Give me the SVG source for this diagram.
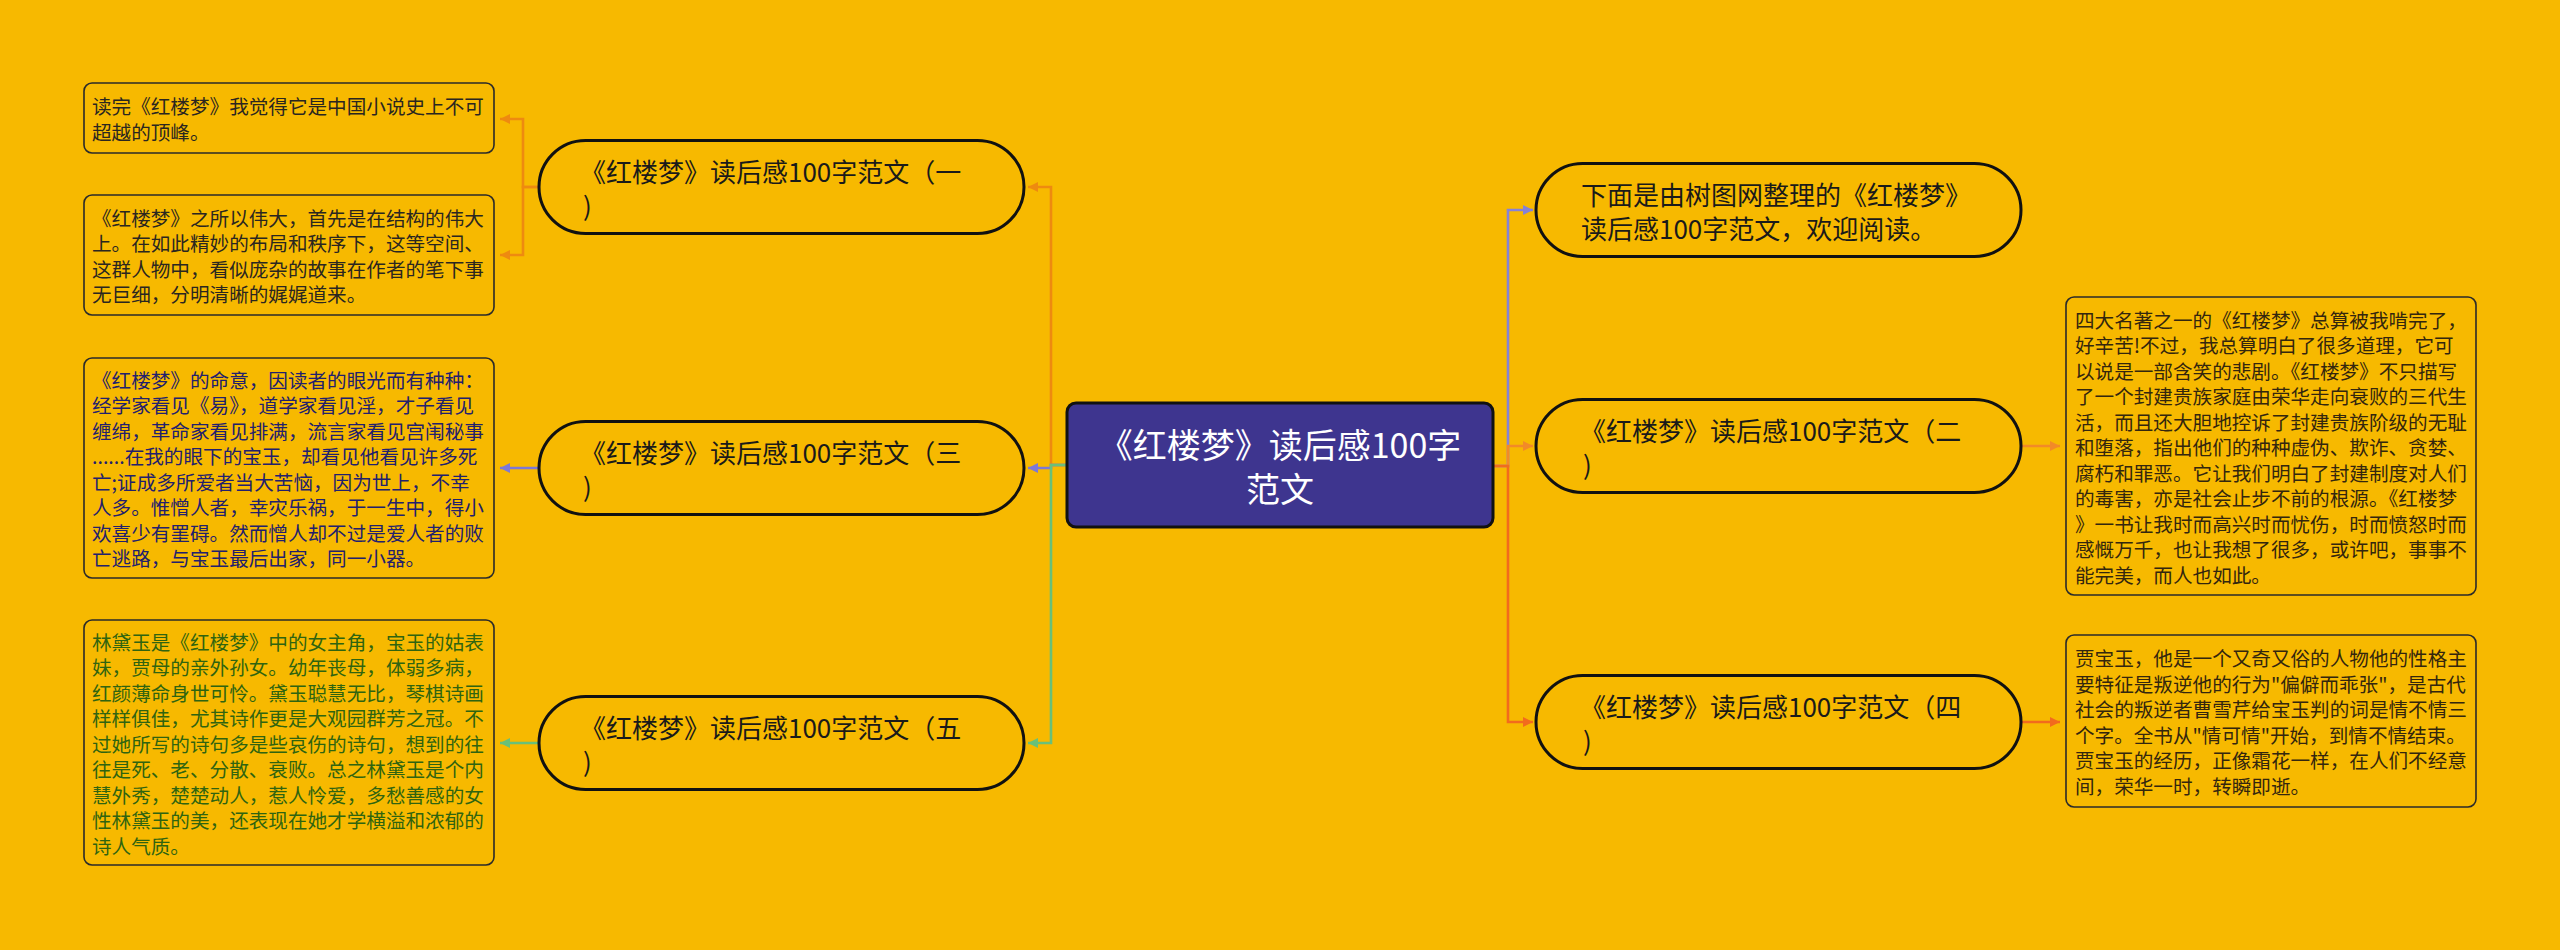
<svg xmlns="http://www.w3.org/2000/svg" width="2560" height="950" viewBox="0 0 2560 950">
<style>
text{font-family:"Noto Sans CJK SC","Noto Sans",sans-serif;dominant-baseline:central}
.pill{fill:none;stroke:#111;stroke-width:3}
.pt{font-size:26px;fill:#1a1a1a}
.box{fill:none;stroke:#2a2a2a;stroke-width:1.6}
.bt{font-size:19.6px}
.c{fill:none;stroke-width:2.6}
.or{stroke:#ee8a10}.pu{stroke:#7c78d8}.gr{stroke:#69c07a}.lp{stroke:#8682d8}.lo{stroke:#f28a28}.ro{stroke:#f26b1d}
</style>
<defs>
<marker id="a-or" viewBox="0 0 10 10" refX="10" refY="5" markerWidth="10" markerHeight="10" markerUnits="userSpaceOnUse" orient="auto"><path d="M0,0L10,5L0,10z" fill="#ee8a10"/></marker>
<marker id="a-pu" viewBox="0 0 10 10" refX="10" refY="5" markerWidth="10" markerHeight="10" markerUnits="userSpaceOnUse" orient="auto"><path d="M0,0L10,5L0,10z" fill="#7c78d8"/></marker>
<marker id="a-gr" viewBox="0 0 10 10" refX="10" refY="5" markerWidth="10" markerHeight="10" markerUnits="userSpaceOnUse" orient="auto"><path d="M0,0L10,5L0,10z" fill="#69c07a"/></marker>
<marker id="a-lp" viewBox="0 0 10 10" refX="10" refY="5" markerWidth="10" markerHeight="10" markerUnits="userSpaceOnUse" orient="auto"><path d="M0,0L10,5L0,10z" fill="#8682d8"/></marker>
<marker id="a-lo" viewBox="0 0 10 10" refX="10" refY="5" markerWidth="10" markerHeight="10" markerUnits="userSpaceOnUse" orient="auto"><path d="M0,0L10,5L0,10z" fill="#f28a28"/></marker>
<marker id="a-ro" viewBox="0 0 10 10" refX="10" refY="5" markerWidth="10" markerHeight="10" markerUnits="userSpaceOnUse" orient="auto"><path d="M0,0L10,5L0,10z" fill="#f26b1d"/></marker>
</defs>
<rect width="2560" height="950" fill="#f7b900"/>
<g id="connectors">
<path class="c or" d="M1067,465H1051V187H1028" marker-end="url(#a-or)"/>
<path class="c pu" d="M1067,465H1051V468H1028" marker-end="url(#a-pu)"/>
<path class="c gr" d="M1067,465H1051V743H1028" marker-end="url(#a-gr)"/>
<path class="c or" d="M539,187H523V119H500" marker-end="url(#a-or)"/>
<path class="c or" d="M539,187H523V255H500" marker-end="url(#a-or)"/>
<path class="c pu" d="M539,468H500" marker-end="url(#a-pu)"/>
<path class="c gr" d="M539,743H500" marker-end="url(#a-gr)"/>
<path class="c lp" d="M1493,466H1508V210H1533" marker-end="url(#a-lp)"/>
<path class="c lo" d="M1493,466H1508V446H1533" marker-end="url(#a-lo)"/>
<path class="c ro" d="M1493,466H1508V722H1533" marker-end="url(#a-ro)"/>
<path class="c lo" d="M2021,446H2060" marker-end="url(#a-lo)"/>
<path class="c ro" d="M2021,722H2060" marker-end="url(#a-ro)"/>
</g>
<g id="center">
<rect x="1067" y="403" width="426" height="124" rx="9" fill="#3e358f" stroke="#111" stroke-width="3"/>
<text font-size="34" fill="#fff" text-anchor="middle"><tspan x="1280" y="443">《红楼梦》读后感100字</tspan><tspan x="1280" y="487">范文</tspan></text>
</g>
<g id="intro">
<rect class="pill" x="1536" y="163.5" width="485" height="93" rx="46.5"/>
<text class="pt"><tspan x="1581" y="193">下面是由树图网整理的《红楼梦》</tspan><tspan x="1581" y="227">读后感100字范文，欢迎阅读。</tspan></text>
</g>
<g id="p1">
<rect class="pill" x="539" y="140.5" width="485" height="93" rx="46.5"/>
<text class="pt"><tspan x="580" y="170">《红楼梦》读后感100字范文（一</tspan><tspan x="583" y="204">)</tspan></text>
</g>
<g id="p3">
<rect class="pill" x="539" y="421.5" width="485" height="93" rx="46.5"/>
<text class="pt"><tspan x="580" y="451">《红楼梦》读后感100字范文（三</tspan><tspan x="583" y="485">)</tspan></text>
</g>
<g id="p5">
<rect class="pill" x="539" y="696.5" width="485" height="93" rx="46.5"/>
<text class="pt"><tspan x="580" y="726">《红楼梦》读后感100字范文（五</tspan><tspan x="583" y="760">)</tspan></text>
</g>
<g id="p2">
<rect class="pill" x="1536" y="399.5" width="485" height="93" rx="46.5"/>
<text class="pt"><tspan x="1580" y="429">《红楼梦》读后感100字范文（二</tspan><tspan x="1583" y="463">)</tspan></text>
</g>
<g id="p4">
<rect class="pill" x="1536" y="675.5" width="485" height="93" rx="46.5"/>
<text class="pt"><tspan x="1580" y="705">《红楼梦》读后感100字范文（四</tspan><tspan x="1583" y="739">)</tspan></text>
</g>
<g id="d1">
<rect class="box" x="84" y="83" width="410" height="70" rx="8"/>
<text class="bt" fill="#2a2620"><tspan x="92" y="105.25">读完《红楼梦》我觉得它是中国小说史上不可</tspan><tspan x="92" y="130.75">超越的顶峰。</tspan></text>
</g>
<g id="d2">
<rect class="box" x="84" y="195" width="410" height="120" rx="8"/>
<text class="bt" fill="#2a2620"><tspan x="92" y="216.75">《红楼梦》之所以伟大，首先是在结构的伟大</tspan><tspan x="92" y="242.25">上。在如此精妙的布局和秩序下，这等空间、</tspan><tspan x="92" y="267.75">这群人物中，看似庞杂的故事在作者的笔下事</tspan><tspan x="92" y="293.25">无巨细，分明清晰的娓娓道来。</tspan></text>
</g>
<g id="d3">
<rect class="box" x="84" y="358" width="410" height="220" rx="8"/>
<text class="bt" fill="#22206e"><tspan x="92" y="378.75">《红楼梦》的命意，因读者的眼光而有种种：</tspan><tspan x="92" y="404.25">经学家看见《易》，道学家看见淫，才子看见</tspan><tspan x="92" y="429.75">缠绵，革命家看见排满，流言家看见宫闱秘事</tspan><tspan x="92" y="455.25">......在我的眼下的宝玉，却看见他看见许多死</tspan><tspan x="92" y="480.75">亡;证成多所爱者当大苦恼，因为世上，不幸</tspan><tspan x="92" y="506.25">人多。惟憎人者，幸灾乐祸，于一生中，得小</tspan><tspan x="92" y="531.75">欢喜少有罣碍。然而憎人却不过是爱人者的败</tspan><tspan x="92" y="557.25">亡逃路，与宝玉最后出家，同一小器。</tspan></text>
</g>
<g id="d5">
<rect class="box" x="84" y="620" width="410" height="245" rx="8"/>
<text class="bt" fill="#2f6410"><tspan x="92" y="640.5">林黛玉是《红楼梦》中的女主角，宝玉的姑表</tspan><tspan x="92" y="666">妹，贾母的亲外孙女。幼年丧母，体弱多病，</tspan><tspan x="92" y="691.5">红颜薄命身世可怜。黛玉聪慧无比，琴棋诗画</tspan><tspan x="92" y="717">样样俱佳，尤其诗作更是大观园群芳之冠。不</tspan><tspan x="92" y="742.5">过她所写的诗句多是些哀伤的诗句，想到的往</tspan><tspan x="92" y="768">往是死、老、分散、衰败。总之林黛玉是个内</tspan><tspan x="92" y="793.5">慧外秀，楚楚动人，惹人怜爱，多愁善感的女</tspan><tspan x="92" y="819">性林黛玉的美，还表现在她才学横溢和浓郁的</tspan><tspan x="92" y="844.5">诗人气质。</tspan></text>
</g>
<g id="d2r">
<rect class="box" x="2066" y="297" width="410" height="298" rx="8"/>
<text class="bt" fill="#33260e"><tspan x="2075" y="318.5">四大名著之一的《红楼梦》总算被我啃完了，</tspan><tspan x="2075" y="344">好辛苦!不过，我总算明白了很多道理，它可</tspan><tspan x="2075" y="369.5">以说是一部含笑的悲剧。《红楼梦》不只描写</tspan><tspan x="2075" y="395">了一个封建贵族家庭由荣华走向衰败的三代生</tspan><tspan x="2075" y="420.5">活，而且还大胆地控诉了封建贵族阶级的无耻</tspan><tspan x="2075" y="446">和堕落，指出他们的种种虚伪、欺诈、贪婪、</tspan><tspan x="2075" y="471.5">腐朽和罪恶。它让我们明白了封建制度对人们</tspan><tspan x="2075" y="497">的毒害，亦是社会止步不前的根源。《红楼梦</tspan><tspan x="2075" y="522.5">》一书让我时而高兴时而忧伤，时而愤怒时而</tspan><tspan x="2075" y="548">感慨万千，也让我想了很多，或许吧，事事不</tspan><tspan x="2075" y="573.5">能完美，而人也如此。</tspan></text>
</g>
<g id="d4r">
<rect class="box" x="2066" y="635" width="410" height="172" rx="8"/>
<text class="bt" fill="#33260e"><tspan x="2075" y="657.25">贾宝玉，他是一个又奇又俗的人物他的性格主</tspan><tspan x="2075" y="682.75">要特征是叛逆他的行为"偏僻而乖张"，是古代</tspan><tspan x="2075" y="708.25">社会的叛逆者曹雪芹给宝玉判的词是情不情三</tspan><tspan x="2075" y="733.75">个字。全书从"情可情"开始，到情不情结束。</tspan><tspan x="2075" y="759.25">贾宝玉的经历，正像霜花一样，在人们不经意</tspan><tspan x="2075" y="784.75">间，荣华一时，转瞬即逝。</tspan></text>
</g>
</svg>
